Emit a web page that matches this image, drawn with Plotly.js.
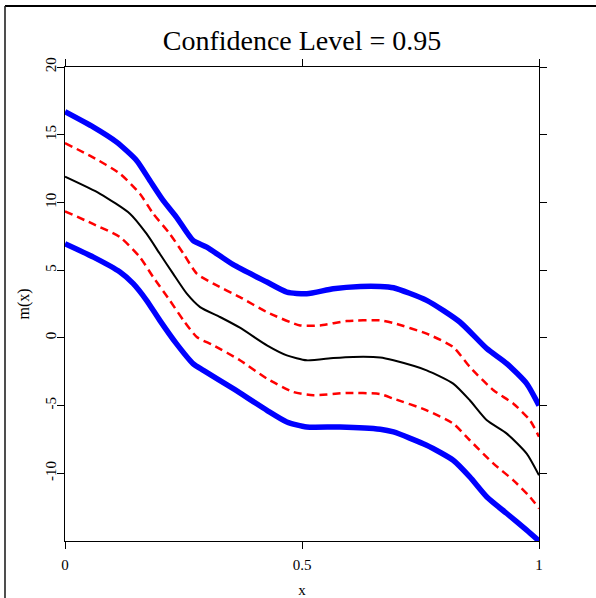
<!DOCTYPE html>
<html>
<head>
<meta charset="utf-8">
<script src="https://cdn.plot.ly/plotly-3.0.1.min.js"></script>
<style>
html,body{margin:0;padding:0;background:#fff;}
#chart{width:596px;height:598px;}
</style>
</head>
<body>
<div id="chart"></div>
<script>
// Estimated fit (black) curve
const xFit = [0, 0.074, 0.137, 0.172, 0.2, 0.228, 0.257, 0.285, 0.327, 0.369, 0.426, 0.468, 0.51, 0.566, 0.608, 0.665, 0.693, 0.763, 0.819, 0.854, 0.89, 0.932, 0.974, 1.0];
const yFit = [11.9, 10.64, 9.17, 7.69, 6.21, 4.74, 3.26, 2.27, 1.54, 0.75, -0.55, -1.29, -1.66, -1.49, -1.41, -1.45, -1.66, -2.40, -3.38, -4.61, -6.09, -7.07, -8.55, -10.15];

// Upper / lower red dashed bands
const xRedUp = [0, 0.058, 0.116, 0.158, 0.186, 0.221, 0.25, 0.278, 0.313, 0.369, 0.426, 0.496, 0.538, 0.594, 0.665, 0.693, 0.763, 0.819, 0.854, 0.904, 0.946, 0.981, 1.0];
const yRedUp = [14.38, 13.35, 12.12, 10.64, 9.17, 7.69, 6.21, 4.74, 4.0, 3.01, 1.90, 0.92, 0.92, 1.24, 1.29, 1.09, 0.31, -0.68, -2.15, -3.87, -4.86, -6.09, -7.3];
const xRedLo = [0, 0.058, 0.116, 0.158, 0.186, 0.221, 0.25, 0.278, 0.313, 0.369, 0.426, 0.482, 0.524, 0.594, 0.665, 0.693, 0.763, 0.819, 0.854, 0.904, 0.946, 0.981, 1.0];
const yRedLo = [9.34, 8.43, 7.44, 5.96, 4.49, 2.77, 1.29, 0.06, -0.55, -1.65, -3.01, -4.0, -4.24, -4.07, -4.15, -4.49, -5.35, -6.33, -7.56, -9.29, -10.52, -11.75, -12.6];

// Upper / lower blue thick bands
const xBlueUp = [0, 0.06, 0.109, 0.151, 0.179, 0.207, 0.235, 0.27, 0.299, 0.355, 0.426, 0.468, 0.51, 0.566, 0.623, 0.665, 0.693, 0.763, 0.833, 0.89, 0.932, 0.974, 1.0];
const yBlueUp = [16.7, 15.56, 14.45, 13.1, 11.62, 10.15, 8.92, 7.2, 6.7, 5.4, 4.12, 3.38, 3.26, 3.63, 3.8, 3.8, 3.7, 2.77, 1.17, -0.80, -1.9, -3.38, -5.0];
const xBlueLo = [0, 0.06, 0.116, 0.144, 0.172, 0.2, 0.235, 0.27, 0.292, 0.355, 0.426, 0.468, 0.51, 0.58, 0.665, 0.693, 0.763, 0.819, 0.854, 0.89, 0.932, 0.974, 1.0];
const yBlueLo = [6.95, 5.96, 4.86, 4.0, 2.77, 1.29, -0.43, -1.90, -2.40, -3.75, -5.35, -6.21, -6.58, -6.58, -6.75, -6.95, -7.93, -9.04, -10.27, -11.75, -12.97, -14.2, -15.0];

const xTicks = [0, 0.5, 1];
const xTickText = ["0", "0.5", "1"];
const yTicks = [-10, -5, 0, 5, 10, 15, 20];
const yTickText = ["-10", "-5", "0", "5", "10", "15", "20"];
const yRange = [-15, 20];

const FONT = "Liberation Serif";

const traces = [
  {x: xBlueUp, y: yBlueUp, mode: "lines", line: {color: "#0000ff", width: 5.5, shape: "spline", smoothing: 0.6}, hoverinfo: "skip"},
  {x: xBlueLo, y: yBlueLo, mode: "lines", line: {color: "#0000ff", width: 5.5, shape: "spline", smoothing: 0.6}, hoverinfo: "skip"},
  {x: xRedUp, y: yRedUp, mode: "lines", line: {color: "#ff0000", width: 2.5, dash: "8px,5px", shape: "spline", smoothing: 0.6}, hoverinfo: "skip"},
  {x: xRedLo, y: yRedLo, mode: "lines", line: {color: "#ff0000", width: 2.5, dash: "8px,5px", shape: "spline", smoothing: 0.6}, hoverinfo: "skip"},
  {x: xFit, y: yFit, mode: "lines", line: {color: "#000000", width: 2, shape: "spline", smoothing: 0.6}, hoverinfo: "skip"},
  // invisible trace carrying the y tick-label axis
  {x: [0], y: [0], yaxis: "y2", mode: "lines", line: {width: 0}, opacity: 0, hoverinfo: "skip"}
];

const layout = {
  width: 596,
  height: 598,
  margin: {l: 65, r: 57, t: 67, b: 57, pad: 0},
  paper_bgcolor: "#ffffff",
  plot_bgcolor: "#ffffff",
  showlegend: false,
  font: {family: FONT, color: "#000000", size: 15},
  title: {text: "Confidence Level = 0.95", font: {family: FONT, size: 28, color: "#000"}, x: 0.5, xref: "paper", xanchor: "center", y: 1 - 40/598, yanchor: "middle"},
  xaxis: {
    range: [0, 1],
    tickmode: "array", tickvals: xTicks, ticktext: xTickText,
    ticks: "outside", ticklen: 7, tickwidth: 1, tickcolor: "#000",
    showline: true, linecolor: "#000", linewidth: 1.2, mirror: "ticks",
    showgrid: false, zeroline: false,
    tickfont: {family: FONT, size: 15},
    ticklabelstandoff: 3,
    title: {text: "x", font: {family: FONT, size: 15}, standoff: 13}
  },
  yaxis: {
    range: yRange,
    tickmode: "array", tickvals: yTicks, ticktext: yTickText,
    ticks: "outside", ticklen: 7, tickwidth: 1, tickcolor: "#000",
    showline: true, linecolor: "#000", linewidth: 1.2, mirror: "ticks",
    showgrid: false, zeroline: false,
    showticklabels: false
  },
  yaxis2: {
    overlaying: "y", side: "left",
    range: yRange,
    tickmode: "array", tickvals: yTicks, ticktext: yTickText,
    ticks: "", showline: false, showgrid: false, zeroline: false,
    tickangle: -90,
    ticklabelstandoff: 5,
    tickfont: {family: FONT, size: 15},
    title: {text: "m(x)", font: {family: FONT, size: 16}, standoff: 9}
  },
  shapes: [
    {type: "line", xref: "paper", yref: "paper", x0: (5-65)/474, x1: (600-65)/474, y0: (541-6)/474, y1: (541-6)/474, line: {color: "#000", width: 2}},
    {type: "line", xref: "paper", yref: "paper", x0: (5-65)/474, x1: (5-65)/474, y0: (541-6)/474, y1: (541-602)/474, line: {color: "#222", width: 1.6}}
  ]
};

Plotly.newPlot("chart", traces, layout, {displayModeBar: false, staticPlot: true});
</script>
</body>
</html>
